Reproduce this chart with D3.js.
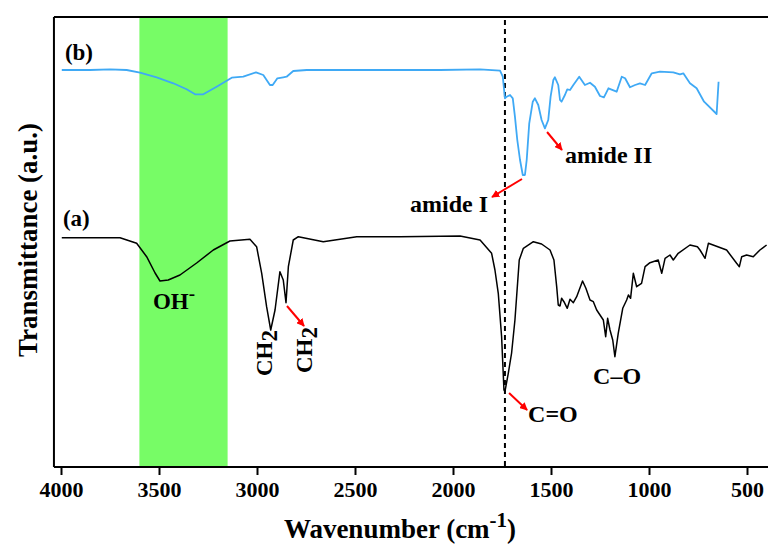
<!DOCTYPE html>
<html>
<head>
<meta charset="utf-8">
<script src="https://cdn.jsdelivr.net/npm/d3@7"></script>
<style>
  html, body { margin: 0; padding: 0; background: #fff; }
  svg { display: block; font-family: "Liberation Serif", "Times New Roman", serif; font-weight: bold; }
</style>
</head>
<body>
<svg id="chart" width="768" height="547"></svg>
<script>
// ---- Data (wavenumber in cm^-1, transmittance in arbitrary units) ----
const waveA = [3996,3699,3614,3563,3520,3495,3453,3393,3308,3223,3138,3036,3002,2976,2951,2930,2908,2883,2866,2852,2840,2815,2789,2662,2491,2270,1964,1862,1803,1786,1769,1752,1740,1735,1718,1701,1684,1662,1641,1590,1548,1505,1485,1471,1463,1454,1446,1434,1417,1403,1386,1369,1339,1322,1301,1284,1267,1250,1233,1221,1211,1199,1185,1174,1157,1134,1114,1105,1094,1080,1063,1038,1020,995,953,935,918,893,876,851,791,753,740,714,697,604,553,539,527,502,468,434,400];
const transA = [229.3,229.3,223.7,210.3,194,186,187,192,204,217,226,227.7,220.3,193.7,160.3,137,157,195.3,187,164.3,200.3,227,230.3,225.3,230.3,230.3,231,227,213.7,197,173.7,130.3,77,75.3,93.7,114,147,207,218.7,225.3,223,217,207,180.3,162,161,168.7,165.3,158.7,167.7,164.3,170.3,186,178.7,167,165.3,157,152,147,130.3,148.7,137,127,110.3,133.7,158.7,167,172,168.7,193.7,180.3,183.7,200.3,204.3,207,193.7,208.7,212,207,213.7,222,220.3,217,208.7,223.7,217,203.7,200.3,210.3,212,210.3,217,222];

const waveB = [3996,3852,3750,3665,3597,3512,3427,3359,3316,3274,3206,3129,3070,3005,2968,2934,2920,2896,2866,2849,2815,2746,2406,2066,1862,1760,1746,1735,1726,1709,1695,1684,1672,1658,1644,1633,1624,1611,1593,1582,1565,1548,1531,1514,1502,1488,1480,1463,1454,1446,1429,1417,1403,1386,1356,1327,1301,1276,1250,1230,1207,1165,1139,1122,1097,1071,1046,1020,986,944,876,842,825,791,757,719,655,645];
const transB = [397,397,397.7,397,394.3,389.7,383.7,377.7,372.7,372.7,380.3,389.3,390.3,394.7,392,382,382,388.7,389.7,390.3,396,397,397,397,397.7,396.3,390.3,368.7,370.3,372,368.7,350.3,327,307,292,292,307,343.7,365.3,368.7,362,347,338.7,347,370.3,387,389.7,382,367,365.3,372,377.7,377,382,390.3,382,384.3,380.3,371,369.7,378.7,375.3,390.3,388.7,379.7,382,383.7,382,393.7,395.3,394.7,392.7,393.7,383.7,378.7,365.3,353,385.3];

const xTicks = [4000,3500,3000,2500,2000,1500,1000,500];
const ohBand = [3600, 3150];       // highlighted O–H region
const amideLine = 1735;             // dashed reference line
const seriesLabels = ["(a)", "(b)"];

// ---- Scales ----
const svg = d3.select("#chart");
const x = d3.scaleLinear().domain([4000, 500]).range([61, 747]);
const y = d3.scaleLinear().domain([0, 450]).range([467, 17]);
const xLeft = x(4036), yTop = y(450), yBot = y(0);

// green band
svg.append("rect")
  .attr("x", x(ohBand[0])).attr("y", yTop)
  .attr("width", x(ohBand[1]) - x(ohBand[0])).attr("height", yBot - yTop)
  .attr("fill", "#77fc66");

// arrow marker
const defs = svg.append("defs");
defs.append("marker").attr("id", "arr").attr("viewBox", "0 0 10 10")
  .attr("refX", 9).attr("refY", 5).attr("markerWidth", 4).attr("markerHeight", 4)
  .attr("orient", "auto")
  .append("path").attr("d", "M0,0 L10,5 L0,10 z").attr("fill", "#ff0000");

// dashed line
svg.append("line")
  .attr("x1", x(amideLine)).attr("x2", x(amideLine))
  .attr("y1", yTop + 3).attr("y2", yBot)
  .attr("stroke", "#000").attr("stroke-width", 2).attr("stroke-dasharray", "5,4");

// curves
const line = d3.line().x(d => x(d[0])).y(d => y(d[1]));
svg.append("path").datum(d3.zip(waveA, transA))
  .attr("d", line).attr("fill", "none").attr("stroke", "#000").attr("stroke-width", 1.5)
  .attr("stroke-linejoin", "round");
svg.append("path").datum(d3.zip(waveB, transB))
  .attr("d", line).attr("fill", "none").attr("stroke", "#3fa9f5").attr("stroke-width", 1.8)
  .attr("stroke-linejoin", "round");

// frame (left, top, bottom; right edge lies outside the picture)
svg.append("line").attr("x1", xLeft).attr("x2", xLeft).attr("y1", yTop).attr("y2", yBot)
  .attr("stroke", "#000").attr("stroke-width", 2);
svg.append("line").attr("x1", xLeft).attr("x2", 780).attr("y1", yTop).attr("y2", yTop)
  .attr("stroke", "#000").attr("stroke-width", 2);

// x axis
const xAxis = d3.axisBottom(x).tickValues(xTicks).tickFormat(d3.format("d"))
  .tickSize(8).tickSizeOuter(0).tickPadding(6);
const gx = svg.append("g").attr("transform", `translate(0,${yBot})`).call(xAxis);
gx.select(".domain").attr("d", `M${xLeft},0H780`).attr("stroke-width", 2);
gx.selectAll(".tick line").attr("stroke-width", 2);
gx.selectAll(".tick text").attr("font-family", "Liberation Serif").attr("font-weight", "bold")
  .attr("font-size", 22).attr("fill", "#000");

// axis titles
const xt = svg.append("text").attr("x", 400).attr("y", 538).attr("text-anchor", "middle")
  .attr("font-size", 27);
xt.append("tspan").text("Wavenumber (cm");
xt.append("tspan").text("-1").attr("font-size", 21).attr("dy", -11);
xt.append("tspan").text(")").attr("dy", 11);

svg.append("text").attr("transform", "translate(37,240) rotate(-90)")
  .attr("text-anchor", "middle").attr("font-size", 27).text("Transmittance (a.u.)");

// series labels
svg.append("text").attr("x", x(3990)).attr("y", y(241)).attr("font-size", 23).text(seriesLabels[0]);
svg.append("text").attr("x", x(3980)).attr("y", y(407)).attr("font-size", 23).text(seriesLabels[1]);

// peak labels
const oh = svg.append("text").attr("x", x(3531)).attr("y", y(158)).attr("font-size", 23);
oh.append("tspan").text("OH");
oh.append("tspan").text("-").attr("font-size", 19).attr("dy", -9);

function ch2(w, v) {
  const t = svg.append("text")
    .attr("transform", `translate(${x(w)},${y(v)}) rotate(-90)`)
    .attr("text-anchor", "middle").attr("font-size", 23);
  t.append("tspan").text("CH");
  t.append("tspan").text("2").attr("dy", 5);
}
ch2(2923, 114);
ch2(2719, 117);

svg.append("text").attr("x", x(1617)).attr("y", y(45)).attr("font-size", 24).text("C=O");
svg.append("text").attr("x", x(1163)).attr("y", y(83)).attr("text-anchor", "middle").attr("font-size", 24).text("C–O");
svg.append("text").attr("x", x(1429)).attr("y", y(304)).attr("font-size", 24).text("amide II");
svg.append("text").attr("x", x(2219)).attr("y", y(255)).attr("font-size", 24).text("amide I");

// red arrows
const arrows = [
  [[2847,161],[2760,141]],
  [[1714,74],[1622,57]],
  [[1520,335],[1444,317]],
  [[1648,288],[1801,270]]
];
arrows.forEach(a => {
  svg.append("line")
    .attr("x1", x(a[0][0])).attr("y1", y(a[0][1]))
    .attr("x2", x(a[1][0])).attr("y2", y(a[1][1]))
    .attr("stroke", "#ff0000").attr("stroke-width", 2).attr("marker-end", "url(#arr)");
});
</script>
</body>
</html>
